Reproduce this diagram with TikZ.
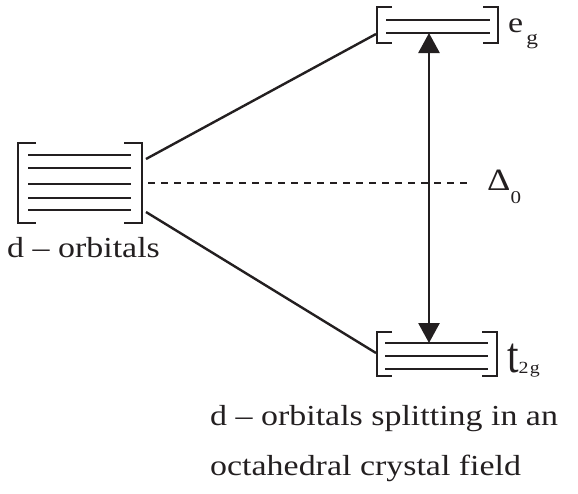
\documentclass[tikz,border=0pt]{standalone}
\usepackage{fontspec}
\setmainfont{Liberation Serif}
\usetikzlibrary{arrows.meta,calc,positioning}
\definecolor{ink}{RGB}{35,31,32}
\newcommand{\wide}[1]{\scalebox{1.17}[1]{#1}}
\tikzset{
  levelbox/.style={draw=none,inner sep=0pt,outer sep=0pt},
  bracket/.style={draw=ink,line width=2.9pt,line cap=butt,line join=miter},
  orbital/.style={draw=ink,line width=2.9pt},
  split/.style={draw=ink,line width=2.4pt},
  gap line/.style={draw=ink,line width=2.4pt,dash pattern=on 7pt off 6pt},
  energy/.style={draw=ink,line width=2.8pt,
    {Triangle[length=20pt,width=21pt]}-{Triangle[length=20pt,width=21pt]}},
  txt/.style={inner sep=0pt,anchor=base west,text=ink},
  bigfont/.style={font=\fontsize{29}{34}\selectfont}
}

\begin{document}
\begin{tikzpicture}[x=1pt,y=-1pt]
  \useasboundingbox (0,0) rectangle (578,493);

  % orbital sets
  \node[levelbox,minimum width=124pt,minimum height=80pt] (dset) at (80,183) {};
  \node[levelbox,minimum width=121pt,minimum height=36pt] (eg) at (437.5,25) {};
  \node[levelbox,minimum width=120pt,minimum height=44pt] (tg) at (437,354) {};

  \foreach \b/\ta in {dset/18, eg/15, tg/15} {
    \draw[bracket] ([xshift=\ta pt]\b.north west) -- (\b.north west)
      -- (\b.south west) -- ([xshift=\ta pt]\b.south west);
    \draw[bracket] ([xshift=-\ta pt]\b.north east) -- (\b.north east)
      -- (\b.south east) -- ([xshift=-\ta pt]\b.south east);
  }

  \foreach \dy in {-28,-15,1,15,27}
    \draw[orbital] ([shift={(-52,\dy)}]dset.center) -- ([shift={(51,\dy)}]dset.center);
  \foreach \dy in {-5,8}
    \draw[orbital] ([shift={(-51.5,\dy)}]eg.center) -- ([shift={(52.5,\dy)}]eg.center);
  \foreach \dy in {-11,2,15}
    \draw[orbital] ([shift={(-52,\dy)}]tg.center) -- ([shift={(51,\dy)}]tg.center);

  % labels
  \node[txt,bigfont] (dlabel) at (7,257) {\wide{d – orbitals}};
  \node[txt] (eglabel) at (508,32)
    {{\fontsize{29}{34}\selectfont\wide{e}}\kern3pt\raisebox{-12pt}{\fontsize{20}{22}\selectfont\wide{g}}};
  \node[txt] (tlabel) at (507,372)
    {{\fontsize{46}{50}\selectfont\scalebox{0.9}[1.1]{t}}\raisebox{-1pt}{\fontsize{17}{20}\selectfont\wide{2\kern1pt g}}};
  \node[txt] (delta) at (487,190)
    {{\fontsize{31}{34}\selectfont\wide{Δ}}\raisebox{-13pt}{\fontsize{18}{20}\selectfont\wide{0}}};

  % splitting
  \draw[split] ([shift={(4,16)}]dset.north east) -- ([shift={(-1,9)}]eg.west);
  \draw[split] ([shift={(4,-11)}]dset.south east) -- ([shift={(-1,-1)}]tg.west);
  \draw[gap line] ([xshift=6pt]dset.east) -- ($(dset.east -| delta.west)+(-14,0)$);

  \coordinate (eg bottom) at ([shift={(-8.5,8)}]eg.center);
  \coordinate (tg top) at ([shift={(-8,-11)}]tg.center);
  \draw[energy] (tg top) -- (eg bottom);

  \node[txt,bigfont] (caption) at (210,425) {\wide{d – orbitals splitting in an}};
  \node[txt,bigfont] (caption2) at (210,475) {\wide{octahedral crystal field}};
\end{tikzpicture}
\end{document}
